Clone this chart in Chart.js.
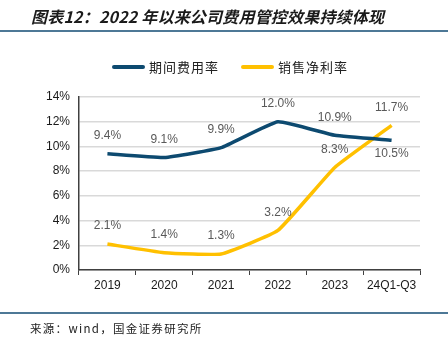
<!DOCTYPE html>
<html><head><meta charset="utf-8">
<script src="https://cdn.jsdelivr.net/npm/chart.js@4"></script>
<style>
html,body{margin:0;padding:0;background:#fff;}
#wrap{position:relative;width:448px;height:337px;overflow:hidden;}
#c{position:absolute;left:0;top:0;}
.title{position:absolute;left:31px;top:4px;font-family:"Noto Sans CJK SC";font-size:16px;font-weight:bold;font-style:italic;color:#1a1a1a;white-space:nowrap;letter-spacing:0.2px;}
.rule{position:absolute;left:0;width:448px;height:2px;background:#4d7896;}
.src{position:absolute;left:30px;top:320px;font-family:"Noto Sans CJK SC";font-size:11.5px;color:#222;white-space:nowrap;letter-spacing:1.3px;}
.leg{position:absolute;top:57px;font-family:"Noto Sans CJK SC";font-size:13px;color:#222;white-space:nowrap;letter-spacing:1px;}
.leg span.l{display:inline-block;width:33px;height:4px;border-radius:2px;vertical-align:middle;margin-right:4px;position:relative;top:-1px;}
</style></head>
<body><div id="wrap">
<canvas id="c" width="448" height="337"></canvas>
<div class="title">图表12：2022 年以来公司费用管控效果持续体现</div>
<div class="rule" style="top:30px"></div>
<div class="leg" style="left:112px"><span class="l" style="background:#0d4a70"></span>期间费用率</div>
<div class="leg" style="left:241px"><span class="l" style="background:#ffc000"></span>销售净利率</div>
<div class="rule" style="top:312px"></div>
<div class="src">来源：wind，国金证券研究所</div>
</div>
<script>
const categories = ["2019","2020","2021","2022","2023","24Q1-Q3"];
const expenseRate = [9.4, 9.1, 9.9, 12.0, 10.9, 10.5];
const netMargin = [2.1, 1.4, 1.3, 3.2, 8.3, 11.7];
const seriesNames = ["期间费用率","销售净利率"];
const yTicks = [0,2,4,6,8,10,12,14];
// label placement: -1 above, +1 below
const expenseLabelPos = [-1,-1,-1,-1,-1,1];
const netLabelPos = [-1,-1,-1,-1,-1,-1];

const labelPlugin = {
  id:'valLabels',
  afterDatasetsDraw(chart){
    const ctx = chart.ctx;
    ctx.save();
    ctx.font = '12px "Liberation Sans", Arial, sans-serif';
    ctx.fillStyle = '#595959';
    ctx.textAlign = 'center';
    ctx.textBaseline = 'middle';
    const posArr = [expenseLabelPos, netLabelPos];
    chart.data.datasets.forEach((ds, i) => {
      const meta = chart.getDatasetMeta(i);
      meta.data.forEach((pt, j) => {
        const dir = posArr[i][j];
        const y = pt.y + (dir < 0 ? -18 : 13);
        ctx.fillText(ds.data[j].toFixed(1) + '%', pt.x, y);
      });
    });
    ctx.restore();
  }
};

new Chart(document.getElementById('c'), {
  type:'line',
  data:{
    labels:categories,
    datasets:[
      {label:seriesNames[0], data:expenseRate, borderColor:'#0d4a70', borderWidth:3.5, pointRadius:0, tension:0.12, fill:false},
      {label:seriesNames[1], data:netMargin, borderColor:'#ffc000', borderWidth:3.5, pointRadius:0, tension:0.12, fill:false}
    ]
  },
  options:{
    responsive:false, animation:false, devicePixelRatio:1,
    layout:{padding:{left:0,right:28,top:97,bottom:0}},
    plugins:{legend:{display:false}, tooltip:{enabled:false}},
    scales:{
      x:{
        offset:true,
        grid:{display:true, drawOnChartArea:false, drawTicks:true, tickLength:5, color:'#404040', offset:true},
        border:{display:true, color:'#404040', width:1.5},
        ticks:{color:'#1a1a1a', font:{family:'"Liberation Sans", Arial, sans-serif', size:12}, padding:3, maxRotation:0, autoSkip:false},
        afterFit(s){ s.height = 67; }
      },
      y:{
        min:0, max:14,
        afterBuildTicks(s){ s.ticks = yTicks.map(v=>({value:v})); },
        grid:{color:'#d9d9d9', lineWidth:1.5, drawTicks:false},
        border:{display:true, color:'#404040', width:1.5},
        ticks:{color:'#1a1a1a', font:{family:'"Liberation Sans", Arial, sans-serif', size:12}, padding:9, callback:v=>v+'%'},
        afterFit(s){ s.width = 79; }
      }
    }
  },
  plugins:[labelPlugin]
});
</script>
</body></html>
